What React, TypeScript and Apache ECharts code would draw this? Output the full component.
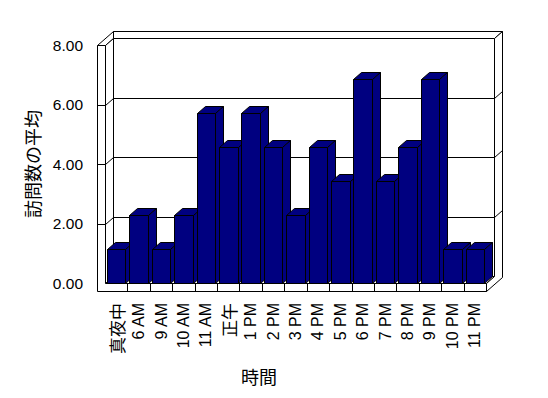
import React, { useEffect, useRef } from "react";
import * as echarts from "echarts";

const categories = ["真夜中", "6 AM", "9 AM", "10 AM", "11 AM", "正午", "1 PM", "2 PM", "3 PM", "4 PM", "5 PM", "6 PM", "7 PM", "8 PM", "9 PM", "10 PM", "11 PM"];
const visitAverages = [1.14, 2.29, 1.14, 2.29, 5.71, 4.57, 5.71, 4.57, 2.29, 4.57, 3.43, 6.86, 3.43, 4.57, 6.86, 1.14, 1.14];
const yTicks = [0, 2, 4, 6, 8];
const yAxisTitle = "訪問数の平均";
const xAxisTitle = "時間";

const DX = 8;
const DY = -7;
const WALL = 8;
const FLOOR = 8;
const BAR_COLOR = "#000080";
const LATIN = "'Liberation Sans', Arial, 'Noto Sans CJK JP', sans-serif";
const CJK = "'Noto Sans CJK JP', sans-serif";

const px = (n: number) => Math.round(n) + 0.5;

export default function App() {
  const ref = useRef<HTMLDivElement>(null);
  useEffect(() => {
    if (!ref.current) return;
    const chart = echarts.init(ref.current, null, { renderer: "svg" });
    const wallStyle = { fill: "#fff", stroke: "#000", lineWidth: 1 };
    const lineStyle = { stroke: "#000", lineWidth: 1 };
    const barStyle = { fill: BAR_COLOR, stroke: "#000", lineWidth: 1 };

    const frameRender = (params: any, api: any) => {
      const cs = params.coordSys;
      const L = px(cs.x);
      const R = px(cs.x + cs.width);
      const T = px(cs.y);
      const B = px(cs.y + cs.height);
      const poly = (points: number[][], style: any = wallStyle) => ({ type: "polygon", shape: { points }, style });
      const line = (x1: number, y1: number, x2: number, y2: number) => ({ type: "line", shape: { x1, y1, x2, y2 }, style: lineStyle });
      const children: any[] = [
        poly([[L + DX, T + DY], [R + DX, T + DY], [R + DX, B + DY], [L + DX, B + DY]]),
        poly([[L + DX, T + DY], [R + DX, T + DY], [R + 2 * DX, T + 2 * DY], [L - WALL + 2 * DX, T + 2 * DY]]),
        poly([[L - WALL, T], [L, T], [L + DX, T + DY], [L - WALL + 2 * DX, T + 2 * DY]]),
        poly([[L, T], [L + DX, T + DY], [L + DX, B + DY], [L, B]]),
        poly([[L, B], [R, B], [R + DX, B + DY], [L + DX, B + DY]]),
        poly([[L - WALL, T], [L, T], [L, B], [R, B], [R, B + FLOOR], [L - WALL, B + FLOOR]]),
        poly([[R + DX, T + DY], [R + 2 * DX, T + 2 * DY], [R + 2 * DX, B + FLOOR + 2 * DY], [R, B + FLOOR], [R, B], [R + DX, B + DY]]),
      ];
      const lo = yTicks[0];
      const hi = yTicks[yTicks.length - 1];
      yTicks.forEach((v) => {
        if (v === lo || v === hi) return;
        const y = px(api.coord([0, v])[1]);
        children.push(line(L - WALL, y, L, y));
        children.push(line(L, y, L + DX, y + DY));
        children.push(line(L + DX, y + DY, R + DX, y + DY));
        children.push(line(R + DX, y + DY, R + 2 * DX, y + 2 * DY));
      });
      const band = api.size([1, 0])[0];
      for (let i = 1; i < categories.length; i++) {
        const x = px(cs.x + i * band);
        children.push(line(x, B, x, B + FLOOR));
      }
      return { type: "group", children };
    };

    const barRender = (params: any, api: any) => {
      const i = api.value(0);
      const v = api.value(1);
      const top = api.coord([i, v]);
      const base = api.coord([i, 0]);
      const bw = api.size([1, 0])[0] * 0.825;
      const l = px(top[0] - bw / 2);
      const r = px(top[0] + bw / 2);
      const t = px(top[1]);
      const b = px(base[1]);
      return {
        type: "group",
        children: [
          { type: "polygon", shape: { points: [[l, t], [r, t], [r, b], [l, b]] }, style: barStyle },
          { type: "polygon", shape: { points: [[l, t], [r, t], [r + DX, t + DY], [l + DX, t + DY]] }, style: barStyle },
          { type: "polygon", shape: { points: [[r, t], [r + DX, t + DY], [r + DX, b + DY], [r, b]] }, style: barStyle },
        ],
      };
    };

    chart.setOption({
      animation: false,
      backgroundColor: "#fff",
      textStyle: { fontFamily: LATIN, color: "#000" },
      grid: { left: 105, right: 62, top: 45, bottom: 115 },
      xAxis: {
        type: "category",
        data: categories,
        boundaryGap: true,
        axisLine: { show: false },
        axisTick: { show: false },
        splitLine: { show: false },
        axisLabel: {
          interval: 0,
          rotate: 90,
          margin: 20,
          fontSize: 16,
          color: "#000",
          fontFamily: LATIN,
          formatter: (v: string) => (/[^\x00-\x7f]/.test(v) ? `{j|${v}}` : v),
          rich: { j: { fontSize: 17, fontFamily: CJK, color: "#000" } },
        },
        name: xAxisTitle,
        nameLocation: "middle",
        nameGap: 84,
        nameTextStyle: { fontSize: 18, fontFamily: CJK, color: "#000", padding: [0, 73, 0, 0] },
      },
      yAxis: {
        type: "value",
        min: yTicks[0],
        max: yTicks[yTicks.length - 1],
        interval: yTicks[1] - yTicks[0],
        axisLine: { show: false },
        axisTick: { show: false },
        splitLine: { show: false },
        axisLabel: {
          margin: 22,
          fontSize: 15.5,
          color: "#000",
          fontFamily: LATIN,
          formatter: (v: number) => v.toFixed(2),
        },
        name: yAxisTitle,
        nameLocation: "middle",
        nameRotate: 90,
        nameGap: 64,
        nameTextStyle: { fontSize: 18, fontFamily: CJK, color: "#000" },
      },
      series: [
        {
          type: "custom",
          name: "frame",
          renderItem: frameRender,
          data: [[0, 0]],
          silent: true,
          z: 1,
        },
        {
          type: "custom",
          name: yAxisTitle,
          renderItem: barRender,
          data: visitAverages.map((v, i) => [i, v]),
          z: 2,
        },
      ],
    });
    return () => chart.dispose();
  }, []);
  return <div ref={ref} style={{ position: "fixed", left: 0, top: 0, width: 548, height: 398, background: "#fff" }} />;
}
